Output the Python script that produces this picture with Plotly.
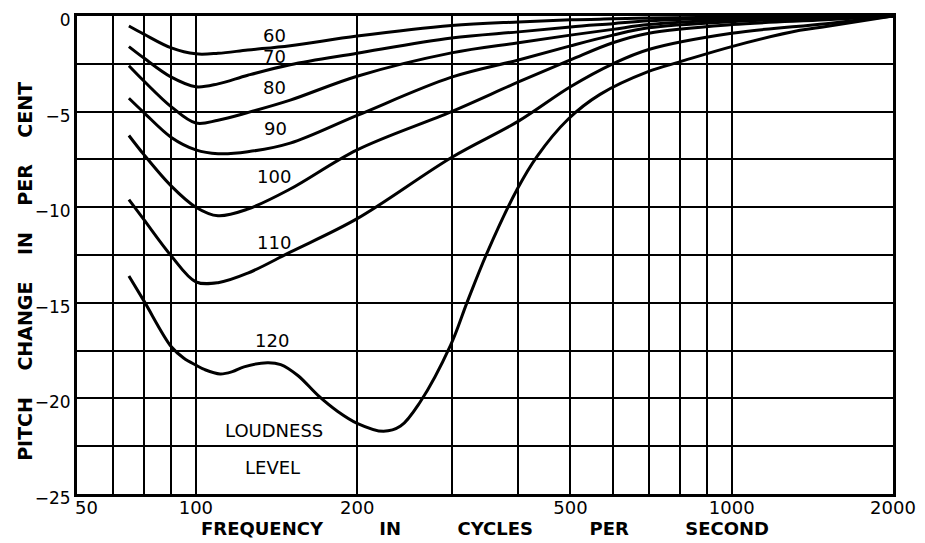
import math
import plotly.graph_objects as go

# ---- data ----
loudness_levels = [60, 70, 80, 90, 100, 110, 120]

freq_common = [75, 80, 90, 100, 110, 125, 150, 200, 300, 400, 500, 600, 700, 1000, 1500, 2000]
pitch_60 = [-0.52, -0.95, -1.67, -1.98, -1.95, -1.78, -1.55, -1.05, -0.5, -0.31, -0.2, -0.15, -0.11, -0.06, -0.02, 0]
pitch_70 = [-1.6, -2.2, -3.2, -3.7, -3.55, -3.1, -2.55, -1.95, -1.15, -0.83, -0.57, -0.4, -0.25, -0.1, -0.04, 0]
pitch_80 = [-2.6, -3.4, -4.75, -5.6, -5.45, -5.05, -4.4, -3.15, -1.93, -1.4, -1.0, -0.7, -0.45, -0.2, -0.08, 0]
pitch_90 = [-4.3, -5.05, -6.35, -7.0, -7.2, -7.1, -6.65, -5.2, -3.2, -2.3, -1.56, -1.0, -0.62, -0.3, -0.12, 0]
pitch_100 = [-6.25, -7.25, -8.9, -10.0, -10.45, -10.1, -9.05, -7.0, -5.0, -3.45, -2.3, -1.4, -0.9, -0.45, -0.2, 0]
pitch_110 = [-9.6, -10.65, -12.55, -13.9, -13.95, -13.45, -12.35, -10.6, -7.4, -5.5, -3.7, -2.5, -1.75, -0.9, -0.4, 0]

freq_120 = [75, 80, 90, 95, 100, 104, 111, 117, 123, 136, 144, 155, 169, 184, 200, 224, 241, 262, 299, 321,
            350, 398, 433, 495, 568, 700, 800, 1000, 1340, 1500, 2000]
pitch_120 = [-13.6, -14.9, -17.3, -17.9, -18.26, -18.5, -18.72, -18.6, -18.35, -18.13, -18.23, -18.8, -19.84,
             -20.68, -21.3, -21.72, -21.45, -20.2, -17.2, -14.95, -12.35, -9.05, -7.35, -5.4, -4.1, -2.9,
             -2.4, -1.6, -0.75, -0.55, 0]

x_tick_vals = [62.5, 100, 200, 500, 1000, 2000]
x_tick_text = ["50", "100", "200", "500", "1000", "2000"]
x_grid_vals = [70, 80, 90, 100, 200, 300, 400, 500, 600, 700, 800, 900, 1000]
y_tick_vals = [0, -5, -10, -15, -20, -25]

# curve label anchor points (frequency, pitch change)
label_freq = [140, 140, 140, 141, 140, 140, 139]
label_pitch = [-1.04, -2.14, -3.75, -5.89, -8.39, -11.82, -16.98]

curves = [
    (freq_common, pitch_60),
    (freq_common, pitch_70),
    (freq_common, pitch_80),
    (freq_common, pitch_90),
    (freq_common, pitch_100),
    (freq_common, pitch_110),
    (freq_120, pitch_120),
]

FONT = "DejaVu Sans"

fig = go.Figure()
for lvl, (fx, py) in zip(loudness_levels, curves):
    fig.add_trace(go.Scatter(
        x=fx, y=py, mode="lines", name=str(lvl),
        line=dict(color="black", width=3, shape="spline", smoothing=1.0),
        showlegend=False, hoverinfo="x+y+name",
    ))

for lvl, lx, ly in zip(loudness_levels, label_freq, label_pitch):
    fig.add_annotation(x=math.log10(lx), y=ly, xref="x", yref="y", text=str(lvl), showarrow=False,
                       font=dict(family=FONT, size=18, color="black"))

fig.add_annotation(x=math.log10(140), y=-21.67, xref="x", yref="y", text="LOUDNESS", showarrow=False,
                   font=dict(family=FONT, size=18, color="black"))
fig.add_annotation(x=math.log10(139), y=-23.6, xref="x", yref="y", text="LEVEL", showarrow=False,
                   font=dict(family=FONT, size=18, color="black"))

NB = "\u00a0"
x_title = (NB * 9).join(["FREQUENCY", "IN", "CYCLES", "PER", "SECOND"])
y_title = (NB * 4).join(["PITCH", "CHANGE", "IN", "PER", "CENT"])

# y-axis title placed beside the tick labels (as in the reference)
fig.add_annotation(x=-0.063, y=0.466, xref="paper", yref="paper", text=y_title, textangle=-90,
                   showarrow=False, xanchor="center", yanchor="middle",
                   font=dict(family=FONT, size=19, color="black", weight="bold"))

# the page body has an 8px default margin, so the figure is sized/margined to compensate
fig.update_layout(
    width=917, height=535,
    margin=dict(l=69, r=32, t=8, b=49, autoexpand=False),
    paper_bgcolor="white", plot_bgcolor="white",
    font=dict(family=FONT, size=18, color="black"),
    xaxis=dict(
        type="log", range=[1.7782, 3.3010], automargin=False,
        tickmode="array", tickvals=x_tick_vals, ticktext=x_tick_text,
        showgrid=False,
        minor=dict(tickmode="array", tickvals=x_grid_vals, showgrid=True,
                   gridcolor="black", gridwidth=2, ticks=""),
        showline=True, linecolor="black", linewidth=3, mirror=True,
        ticks="", zeroline=False, ticklabelstandoff=-5, ticklabeloverflow="allow",
        tickfont=dict(family=FONT, size=18, color="black"),
        title=dict(text=x_title, font=dict(family=FONT, size=18, color="black", weight="bold"),
                   standoff=0),
    ),
    yaxis=dict(
        range=[-25, 0], automargin=False,
        tickmode="array", tickvals=y_tick_vals,
        showgrid=True, gridcolor="black", gridwidth=2,
        minor=dict(dtick=2.5, showgrid=True, gridcolor="black", gridwidth=2, ticks=""),
        showline=True, linecolor="black", linewidth=3, mirror=True,
        ticks="", zeroline=False, ticklabeloverflow="allow", ticklabelshift=4,
        tickfont=dict(family=FONT, size=17, color="black"),
    ),
)

fig.write_html("out.html")
